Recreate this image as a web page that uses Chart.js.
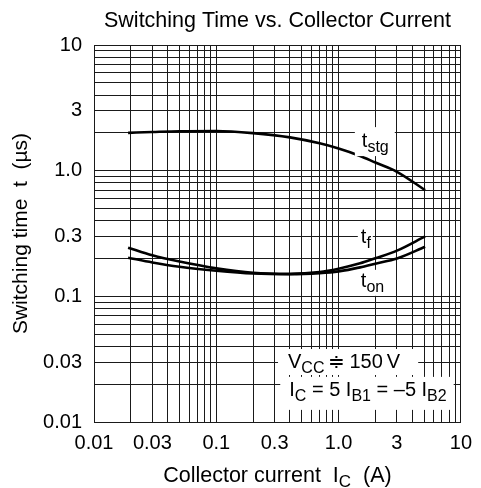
<!DOCTYPE html>
<html>
<head>
<meta charset="utf-8">
<script src="https://cdn.jsdelivr.net/npm/chart.js@4.4.1/dist/chart.umd.min.js"></script>
<style>
  html, body { margin: 0; padding: 0; background: #fff; }
  #wrap { width: 481px; height: 488px; position: relative; }
</style>
</head>
<body>
<div id="wrap"><canvas id="switchChart"></canvas></div>
<script>
// Collector current (A) and switching times (us)
const currents = [0.019, 0.03, 0.05, 0.1, 0.2, 0.4, 0.7, 1, 1.5, 2, 3, 5.1];
const tStg = [2.0, 2.03, 2.06, 2.07, 1.99, 1.84, 1.65, 1.50, 1.31, 1.16, 0.98, 0.70];
const tF   = [0.244, 0.212, 0.189, 0.167, 0.154, 0.151, 0.156, 0.166, 0.183, 0.201, 0.231, 0.300];
const tOn  = [0.203, 0.186, 0.172, 0.160, 0.152, 0.150, 0.153, 0.158, 0.170, 0.182, 0.200, 0.248];

const xTickValues = [0.01, 0.03, 0.1, 0.3, 1, 3, 10];
const xTickLabels = ['0.01', '0.03', '0.1', '0.3', '1.0', '3', '10'];
const yTickValues = [0.01, 0.03, 0.1, 0.3, 1, 3, 10];
const yTickLabels = ['0.01', '0.03', '0.1', '0.3', '1.0', '3', '10'];

const FONT = "'Liberation Sans', Arial, Helvetica, sans-serif";

// 1..9 x 10^n grid lines for a log decade range
function logGrid(min, max) {
    const out = [];
    for (let e = Math.round(Math.log10(min)); e < Math.round(Math.log10(max)); e++) {
        for (let k = 1; k < 10; k++) out.push(Number((k * Math.pow(10, e)).toPrecision(3)));
    }
    out.push(max);
    return out;
}

function labelFor(values, labels) {
    return function(v) {
        const i = values.findIndex(t => Math.abs(v / t - 1) < 1e-6);
        return i >= 0 ? labels[i] : '';
    };
}

const toPoints = ys => currents.map((c, i) => ({ x: c, y: ys[i] }));

// rich text: parts like {t:'I'}, {t:'C', sub:true}
function drawRich(ctx, parts, x, y, box, size) {
    size = size || 20;
    const big = size + 'px ' + FONT, small = Math.round(size * 0.8) + 'px ' + FONT;
    let w = 0;
    parts.forEach(p => { ctx.font = p.sub ? small : big; w += ctx.measureText(p.t).width; });
    if (box) {
        ctx.fillStyle = '#fff';
        ctx.fillRect(x - box.l, y - box.t, w + box.l + box.r, box.t + box.b);
    }
    ctx.fillStyle = '#000';
    ctx.textBaseline = 'alphabetic';
    ctx.textAlign = 'left';
    let cx = x;
    parts.forEach(p => {
        ctx.font = p.sub ? small : big;
        ctx.fillText(p.t, cx, p.sub ? y + 5 : y);
        cx += ctx.measureText(p.t).width;
    });
    return w;
}

// curve labels and test conditions, anchored in data units (left, baseline)
const notes = [
    { at: [1.55, 1.54], parts: [{ t: 't' }, { t: 'stg', sub: true }], box: { l: 7, r: 6, t: 20, b: 9 } },
    { at: [1.52, 0.2645], parts: [{ t: 't' }, { t: 'f', sub: true }], box: { l: 3, r: 2, t: 18, b: 10 } },
    { at: [1.52, 0.119], parts: [{ t: 't' }, { t: 'on', sub: true }], box: { l: 4, r: 4, t: 17, b: 9 } },
    { at: [0.386, 0.0269], parts: [{ t: 'V' }, { t: 'CC', sub: true }, { t: '\u2009\u2251\u2009150\u2009V' }], box: { l: 10, r: 18, t: 19, b: 7 } },
    { at: [0.395, 0.01614], parts: [{ t: 'I' }, { t: 'C', sub: true }, { t: ' = 5 I' }, { t: 'B1', sub: true }, { t: ' = \u20135 I' }, { t: 'B2', sub: true }], box: { l: 9, r: 7, t: 19, b: 14 } }
];

const textPlugin = {
    id: 'textPlugin',
    afterDatasetsDraw(chart) {
        const ctx = chart.ctx, xs = chart.scales.x, ys = chart.scales.y;
        ctx.save();
        notes.forEach(n => {
            drawRich(ctx, n.parts, xs.getPixelForValue(n.at[0]), ys.getPixelForValue(n.at[1]), n.box);
        });
        ctx.restore();
    },
    afterDraw(chart) {
        const ctx = chart.ctx, a = chart.chartArea;
        const mid = (a.left + a.right) / 2;
        ctx.save();
        ctx.fillStyle = '#000';
        ctx.font = '21.5px ' + FONT;
        ctx.textAlign = 'center';
        ctx.textBaseline = 'alphabetic';
        ctx.fillText('Switching Time vs. Collector Current', mid, 27);

        // x axis title with subscript
        const parts = [{ t: 'Collector current  I' }, { t: 'C', sub: true }, { t: '  (A)' }];
        let w = 0;
        parts.forEach(p => { ctx.font = (p.sub ? '17px ' : '21.5px ') + FONT; w += ctx.measureText(p.t).width; });
        drawRich(ctx, parts, mid - w / 2, 482, null, 21.5);

        // y axis title
        ctx.translate(27, (a.top + a.bottom) / 2);
        ctx.rotate(-Math.PI / 2);
        ctx.font = '21px ' + FONT;
        ctx.textAlign = 'center';
        ctx.fillStyle = '#000';
        ctx.fillText('Switching time  t  (\u00b5s)', 0, 0);
        ctx.restore();
    }
};

const ctxSwitch = document.getElementById('switchChart').getContext('2d');
new Chart(ctxSwitch, {
    type: 'line',
    data: {
        datasets: [
            { label: 'tstg', data: toPoints(tStg) },
            { label: 'tf', data: toPoints(tF) },
            { label: 'ton', data: toPoints(tOn) }
        ]
    },
    options: {
        responsive: true,
        maintainAspectRatio: false,
        animation: false,
        layout: { padding: { top: 45, right: 15, left: 0, bottom: 0 } },
        elements: {
            line: { borderColor: '#000', borderWidth: 2.6, tension: 0.4, cubicInterpolationMode: 'monotone', fill: false },
            point: { radius: 0 }
        },
        plugins: { legend: { display: false }, tooltip: { enabled: false }, title: { display: false } },
        scales: {
            x: {
                type: 'logarithmic', min: 0.01, max: 10,
                afterBuildTicks: s => { s.ticks = logGrid(0.01, 10).map(v => ({ value: v })); },
                afterFit: s => { s.height = 66; },
                ticks: { autoSkip: false, maxRotation: 0, padding: 9, color: '#000', font: { family: FONT, size: 20 }, callback: labelFor(xTickValues, xTickLabels) },
                grid: { color: '#1a1a1a', lineWidth: 1, drawTicks: false },
                border: { color: '#1a1a1a', width: 1 }
            },
            y: {
                type: 'logarithmic', min: 0.01, max: 10,
                afterBuildTicks: s => { s.ticks = logGrid(0.01, 10).map(v => ({ value: v })); },
                afterFit: s => { s.width = 94; },
                ticks: { autoSkip: false, padding: 12, color: '#000', font: { family: FONT, size: 20 }, callback: labelFor(yTickValues, yTickLabels) },
                grid: { color: '#1a1a1a', lineWidth: 1, drawTicks: false },
                border: { color: '#1a1a1a', width: 1 }
            }
        }
    },
    plugins: [textPlugin]
});
</script>
</body>
</html>
